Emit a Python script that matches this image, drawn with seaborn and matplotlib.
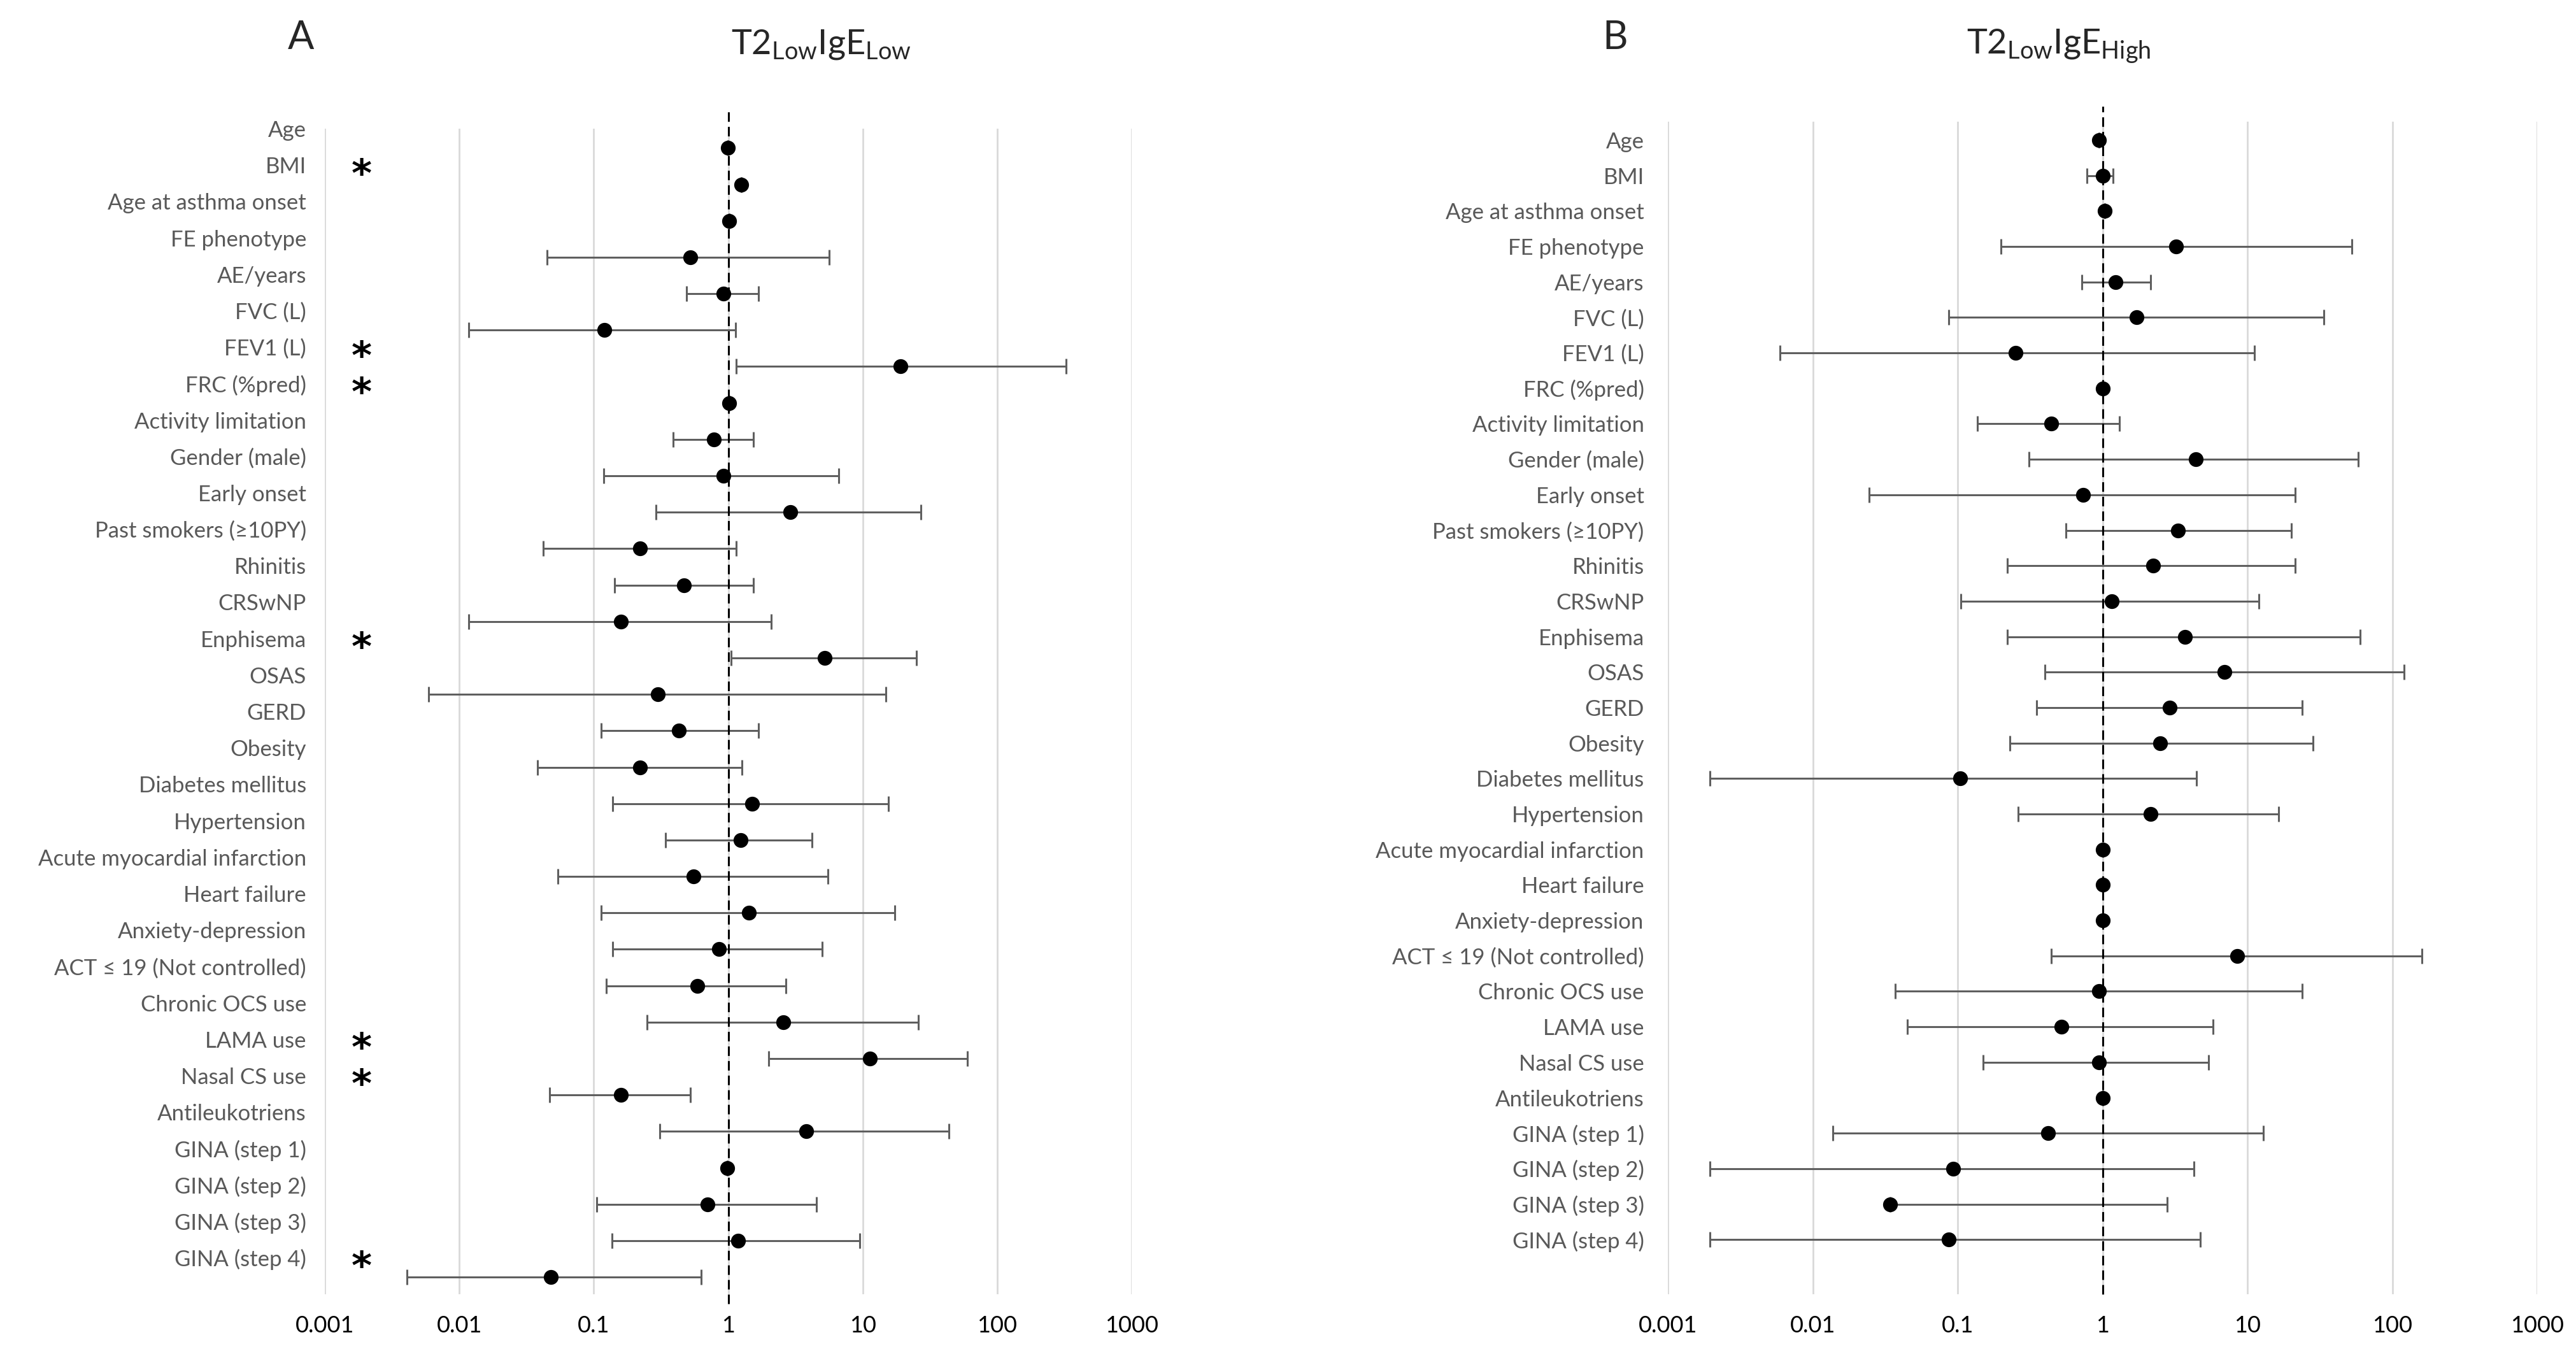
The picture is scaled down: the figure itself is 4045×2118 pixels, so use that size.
import matplotlib
matplotlib.use("Agg")
import matplotlib.pyplot as plt
import matplotlib.transforms as mtransforms
import numpy as np
import pandas as pd
import seaborn as sns

# Variables (same order in both panels)
variables = ["Age", "BMI", "Age at asthma onset", "FE phenotype", "AE/years", "FVC (L)",
             "FEV1 (L)", "FRC (%pred)", "Activity limitation", "Gender (male)", "Early onset",
             "Past smokers (≥10PY)", "Rhinitis", "CRSwNP", "Enphisema", "OSAS", "GERD",
             "Obesity", "Diabetes mellitus", "Hypertension", "Acute myocardial infarction",
             "Heart failure", "Anxiety-depression", "ACT ≤ 19 (Not controlled)",
             "Chronic OCS use", "LAMA use", "Nasal CS use", "Antileukotriens",
             "GINA (step 1)", "GINA (step 2)", "GINA (step 3)", "GINA (step 4)"]

# A - T2 low IgE low : odds ratio and 95% CI
or_a = [0.99, 1.25, 1.02, 0.52, 0.92, 0.12, 19.2, 1.02, 0.78, 0.92, 2.9, 0.22,
        0.47, 0.16, 5.2, 0.30, 0.43, 0.22, 1.5, 1.24, 0.55, 1.42, 0.85, 0.59,
        2.58, 11.3, 0.16, 3.8, 0.98, 0.70, 1.18, 0.048]
lo_a = [0.99, 1.25, 1.02, 0.045, 0.49, 0.0118, 1.15, 1.02, 0.39, 0.118, 0.29, 0.042,
        0.142, 0.0118, 1.05, 0.0059, 0.113, 0.038, 0.138, 0.34, 0.054, 0.113, 0.138, 0.124,
        0.25, 1.99, 0.047, 0.31, 0.98, 0.105, 0.136, 0.0041]
hi_a = [0.99, 1.25, 1.02, 5.6, 1.67, 1.13, 325, 1.02, 1.53, 6.6, 27, 1.15,
        1.53, 2.08, 25, 14.9, 1.67, 1.27, 15.5, 4.2, 5.5, 17.3, 5.0, 2.67,
        26, 60, 0.52, 43.6, 0.98, 4.55, 9.5, 0.63]
signif_a = ["BMI", "FEV1 (L)", "FRC (%pred)", "Enphisema", "LAMA use", "Nasal CS use",
            "GINA (step 4)"]

# B - T2 low IgE high : odds ratio and 95% CI
or_b = [0.94, 1.0, 1.03, 3.22, 1.23, 1.72, 0.25, 1.0, 0.44, 4.4, 0.73, 3.3,
        2.22, 1.15, 3.7, 6.9, 2.9, 2.5, 0.104, 2.14, 1.0, 1.0, 1.0, 8.5,
        0.94, 0.52, 0.94, 1.0, 0.42, 0.093, 0.034, 0.087]
lo_b = [0.94, 0.78, 1.03, 0.198, 0.72, 0.087, 0.0059, 1.0, 0.136, 0.31, 0.0244, 0.56,
        0.22, 0.105, 0.22, 0.40, 0.35, 0.228, 0.00195, 0.26, 1.0, 1.0, 1.0, 0.44,
        0.037, 0.045, 0.149, 1.0, 0.0137, 0.00195, 0.034, 0.00195]
hi_b = [0.94, 1.18, 1.03, 52.6, 2.14, 33.5, 11.2, 1.0, 1.31, 58, 21.4, 20,
        21.4, 12.0, 59.7, 120, 23.7, 28.3, 4.44, 16.3, 1.0, 1.0, 1.0, 159,
        23.7, 5.8, 5.4, 1.0, 12.8, 4.28, 2.8, 4.7]

x_ticks = [0.001, 0.01, 0.1, 1, 10, 100, 1000]
x_tick_labels = ["0.001", "0.01", "0.1", "1", "10", "100", "1000"]

sns.set_style("white")
plt.rcParams['font.family'] = ['Lato', 'DejaVu Sans']
plt.rcParams['mathtext.fontset'] = 'custom'
plt.rcParams['mathtext.rm'] = 'Lato'

fig = plt.figure(figsize=(40.45, 21.18), dpi=100)


def forest_panel(ax, odds, low, high, shift, ylim, label_pad, vline_ext):
    df = pd.DataFrame({"Variable": variables, "OR": odds, "Low": low, "High": high})
    df["pos"] = np.arange(len(df)) + shift

    ax.set_xscale("log")
    # intervalles de confiance
    ax.errorbar(df["OR"], df["pos"],
                xerr=[df["OR"] - df["Low"], df["High"] - df["OR"]],
                fmt="none", ecolor="#5f5f5f", elinewidth=2.2, capsize=8.3,
                capthick=2.2, zorder=2)
    # odds ratio
    sns.scatterplot(data=df, x="OR", y="pos", ax=ax, color="black", s=280,
                    linewidth=0, zorder=4, legend=False)
    ax.axvline(1, ymin=vline_ext[0], ymax=vline_ext[1], color="black", lw=2.2,
               linestyle=(0, (4.9, 2.6)), clip_on=False, zorder=3)

    ax.set_xlim(0.001, 1000)
    ax.set_ylim(*ylim)
    ax.set_xticks(x_ticks)
    ax.set_xticklabels(x_tick_labels, fontsize=26, color="black")
    ax.xaxis.set_minor_locator(matplotlib.ticker.NullLocator())
    ax.set_yticks(range(len(variables)))
    ax.set_yticklabels(variables, fontsize=25, color="#595959")
    ax.tick_params(axis="y", length=0, pad=label_pad)
    ax.tick_params(axis="x", length=0, pad=24)
    ax.grid(axis="x", color="#d9d9d9", lw=2)
    ax.grid(axis="y", visible=False)
    ax.set_axisbelow(True)
    ax.set_xlabel("")
    ax.set_ylabel("")
    sns.despine(ax=ax, left=True, bottom=True)


ax_a = fig.add_axes([0.1261, 0.0406, 0.3132, 0.864])
forest_panel(ax_a, or_a, lo_a, hi_a, 0.53, (32, 0), 21, (-0.008, 1.017))

ax_b = fig.add_axes([0.6475, 0.0406, 0.3375, 0.8692])
forest_panel(ax_b, or_b, lo_b, hi_b, 0.0, (32.54, -0.52), 27, (0, 1.013))

# asterisques de significativité
trans = mtransforms.blended_transform_factory(ax_a.transAxes, ax_a.transData)
trans = mtransforms.offset_copy(trans, fig=fig, y=-24, units="points")
for name in signif_a:
    ax_a.text(0.0458, variables.index(name), "*", transform=trans, fontsize=44,
              fontweight="bold", family="DejaVu Sans", ha="center", va="baseline",
              color="black")

# titres
fig.text(0.1167, 0.9717, "A", fontsize=44, ha="center", va="center")
fig.text(0.2838, 0.960, r"$\mathrm{T2_{Low}IgE_{Low}}$", fontsize=39, ha="left",
         va="baseline")
fig.text(0.627, 0.9717, "B", fontsize=44, ha="center", va="center")
fig.text(0.7634, 0.960, r"$\mathrm{T2_{Low}IgE_{High}}$", fontsize=39, ha="left",
         va="baseline")

fig.savefig("out.png", dpi=100, facecolor="white")
